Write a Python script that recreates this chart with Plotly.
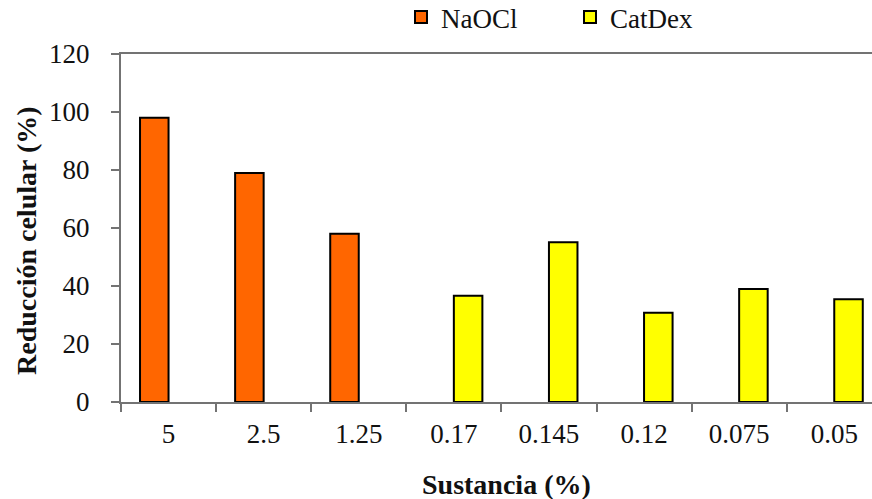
import plotly.graph_objects as go

# Concentrations tested (%), in the order they appear on the axis
categories = ["5", "2.5", "1.25", "0.17", "0.145", "0.12", "0.075", "0.05"]

# Cell reduction (%) for each substance; None where the substance was not tested
naocl = [98, 79, 58, None, None, None, None, None]
catdex = [None, None, None, 36.6, 55.1, 30.8, 39.0, 35.4]

series_names = ["NaOCl", "CatDex"]
series_colors = ["#FF6600", "#FFFF00"]

y_ticks = [0, 20, 40, 60, 80, 100, 120]

font_family = "Liberation Serif, Times New Roman, serif"
axis_color = "#737373"

fig = go.Figure()
for name, values, color in zip(series_names, [naocl, catdex], series_colors):
    fig.add_trace(go.Bar(
        x=categories,
        y=values,
        name=name,
        marker=dict(color=color, line=dict(color="#000000", width=2)),
    ))

fig.update_layout(
    width=872,
    height=499,
    margin=dict(l=121, r=0, t=54, b=97, autoexpand=False),
    paper_bgcolor="white",
    plot_bgcolor="white",
    barmode="group",
    bargap=0.40,
    bargroupgap=0,
    font=dict(family=font_family, color="#111111", size=27),
    showlegend=True,
    legend=dict(
        orientation="h",
        x=(401 - 121) / 751,
        xref="paper",
        xanchor="left",
        y=1 + 12 / 348,
        yanchor="bottom",
        font=dict(family=font_family, size=27, color="#111111"),
        bgcolor="rgba(0,0,0,0)",
        entrywidth=124,
        itemwidth=30,
        traceorder="normal",
    ),
)

fig.update_xaxes(
    type="category",
    range=[-0.5, 7.397],
    showline=True,
    linecolor=axis_color,
    linewidth=2,
    mirror=True,
    ticks="outside",
    tickson="boundaries",
    ticklen=8,
    tickcolor=axis_color,
    tickwidth=1.5,
    ticklabelstandoff=7,
    tickfont=dict(family=font_family, size=27, color="#111111"),
    showgrid=False,
    zeroline=False,
)

fig.update_yaxes(
    range=[0, 120],
    tickvals=y_ticks,
    showline=True,
    linecolor=axis_color,
    linewidth=2,
    mirror=False,
    ticks="outside",
    ticklen=8,
    tickcolor=axis_color,
    tickwidth=1.5,
    ticklabelstandoff=16,
    tickfont=dict(family=font_family, size=27, color="#111111"),
    showgrid=False,
    zeroline=False,
)

# Axis titles
fig.add_annotation(
    text="<b>Sustancia (%)</b>",
    xref="paper", yref="paper",
    x=(506 - 121) / 751, y=-(485 - 402) / 348,
    xanchor="center", yanchor="middle",
    showarrow=False,
    font=dict(family=font_family, size=28, color="#111111"),
)
fig.add_annotation(
    text="<b>Reducción celular (%)</b>",
    xref="paper", yref="paper",
    x=-(121 - 26) / 751, y=(402 - 241) / 348,
    xanchor="center", yanchor="middle",
    textangle=-90,
    showarrow=False,
    font=dict(family=font_family, size=28, color="#111111"),
)

fig.write_html("out.html")
